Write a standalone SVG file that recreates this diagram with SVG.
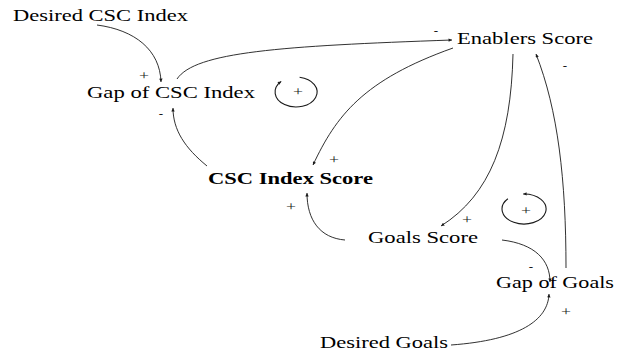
<svg xmlns="http://www.w3.org/2000/svg" width="618" height="354" viewBox="0 0 618 354">
  <style>
    .bg { fill: #ffffff; }
    .lbl { font-size: 17px; fill: #000000; }
    .bold { font-weight: bold; }
    .sign { font-size: 13px; fill: #1a1a1a; text-anchor: middle; }
    .link { fill: none; stroke: #1a1a1a; stroke-width: 0.9; marker-end: url(#ah); }
    .loop { fill: none; stroke: #1a1a1a; stroke-width: 1.1; marker-end: url(#ah); }
  </style>
  <defs>
    <marker id="ah" viewBox="0 0 10 10" refX="10" refY="5" markerWidth="4" markerHeight="3.4" orient="auto" markerUnits="userSpaceOnUse">
      <path d="M0,0 L10,5 L0,10 z" fill="#1a1a1a"/>
    </marker>
  </defs>

  <rect class="bg" x="0" y="0" width="618" height="354"/>

  <g font-family="'Liberation Serif', 'DejaVu Serif', serif">
  <!-- causal links -->
  <g id="connectors">
    <path class="link" d="M97,25 C135,30 160,50 161,82"/>
    <path class="link" d="M177,79 C195,52 280,46 452,40"/>
    <path class="link" d="M207,166 C185,148 173,130 173,108"/>
    <path class="link" d="M453,48 C363,80 336,116 313,165"/>
    <path class="link" d="M513,54 C511,140 490,195 441,226"/>
    <path class="link" d="M566,268 C566,180 558,110 536,54"/>
    <path class="link" d="M502,240 C535,244 550,260 550,282"/>
    <path class="link" d="M345,240 C320,238 307,220 307,193"/>
    <path class="link" d="M451,345 C520,340 548,320 549,294"/>

    <!-- polarity signs -->
    <text class="sign" x="144" y="80" textLength="10" lengthAdjust="spacingAndGlyphs">+</text>
    <text class="sign" x="161" y="118">-</text>
    <text class="sign" x="436" y="35">-</text>
    <text class="sign" x="565" y="70">-</text>
    <text class="sign" x="334" y="164" textLength="10" lengthAdjust="spacingAndGlyphs">+</text>
    <text class="sign" x="291" y="211" textLength="10" lengthAdjust="spacingAndGlyphs">+</text>
    <text class="sign" x="467" y="224" textLength="10" lengthAdjust="spacingAndGlyphs">+</text>
    <text class="sign" x="531" y="271">-</text>
    <text class="sign" x="566" y="316" textLength="10" lengthAdjust="spacingAndGlyphs">+</text>
  </g>

  <!-- loop markers -->
  <g id="loop-r1">
    <path class="loop" d="M299.6,77.2 A21,15 0 1 1 281.2,81.4"/>
    <text class="sign" x="298" y="96" textLength="10" lengthAdjust="spacingAndGlyphs">+</text>
  </g>
  <g id="loop-r2">
    <path class="loop" d="M507.9,198.8 A22,15 0 1 0 523.2,194"/>
    <text class="sign" x="526" y="215" textLength="10" lengthAdjust="spacingAndGlyphs">+</text>
  </g>

  <!-- variables -->
  <g id="desired-csc-index">
    <text class="lbl" x="13" y="21" textLength="175" lengthAdjust="spacingAndGlyphs">Desired CSC Index</text>
  </g>
  <g id="gap-of-csc-index">
    <text class="lbl" x="87" y="98" textLength="168" lengthAdjust="spacingAndGlyphs">Gap of CSC Index</text>
  </g>
  <g id="enablers-score">
    <text class="lbl" x="457" y="44" textLength="136" lengthAdjust="spacingAndGlyphs">Enablers Score</text>
  </g>
  <g id="csc-index-score">
    <text class="lbl bold" x="208" y="184" textLength="165" lengthAdjust="spacingAndGlyphs">CSC Index Score</text>
  </g>
  <g id="goals-score">
    <text class="lbl" x="368" y="243" textLength="110" lengthAdjust="spacingAndGlyphs">Goals Score</text>
  </g>
  <g id="gap-of-goals">
    <text class="lbl" x="496" y="288" textLength="118" lengthAdjust="spacingAndGlyphs">Gap of Goals</text>
  </g>
  <g id="desired-goals">
    <text class="lbl" x="320" y="348" textLength="128" lengthAdjust="spacingAndGlyphs">Desired Goals</text>
  </g>
  </g>
</svg>
